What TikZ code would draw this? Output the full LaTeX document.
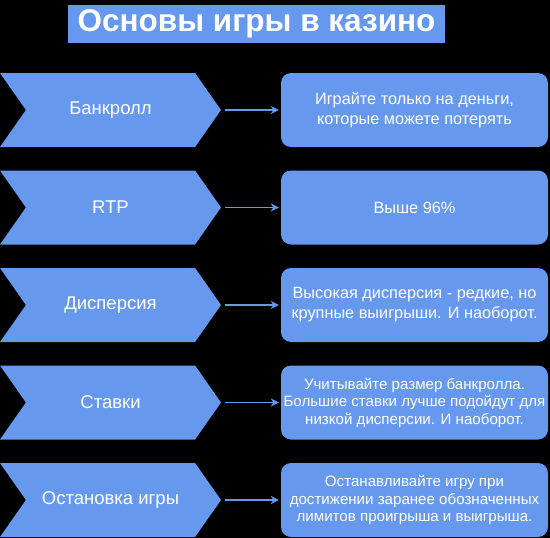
\documentclass[tikz,border=0pt]{standalone}
\usepackage{fontspec}
\setmainfont{Liberation Sans}
\usetikzlibrary{shapes.symbols,arrows.meta}
\definecolor{tileblue}{RGB}{102,153,238}
\begin{document}
\begin{tikzpicture}[x=1pt,y=-1pt,
    topic/.style={signal, signal from=west, signal to=east, signal pointer angle=110,
      fill=tileblue, text=white, minimum width=221pt, minimum height=74pt,
      inner sep=0pt, font=\fontsize{18.5}{22}\selectfont},
    note/.style={rectangle, rounded corners=10pt, fill=tileblue, text=white,
      minimum width=267pt, minimum height=74pt, inner sep=2pt, align=center,
      font=\fontsize{16.3}{20}\selectfont},
    small/.style={font=\fontsize{15.1}{17.5}\selectfont},
    link/.style={draw=tileblue, line width=1.4pt, -{Stealth[length=8pt,width=8pt]},
      shorten <=4pt, shorten >=2pt}]
  \fill[black] (0,0) rectangle (550,538);
  \useasboundingbox (0,0) rectangle (550,538);
  \node[fill=tileblue, text=white, minimum width=377pt, minimum height=38pt,
    inner sep=0pt, font=\fontsize{31.5}{36}\bfseries\selectfont] (title) at (256.5,24) {Основы игры в казино};
  \node[topic] (t1) at (110.5,110) {Банкролл};
  \node[topic] (t2) at (110.5,207.5) {RTP};
  \node[topic] (t3) at (110.5,305) {Дисперсия};
  \node[topic] (t4) at (110.5,402.5) {Ставки};
  \node[topic] (t5) at (110.5,500) {Остановка игры};
  \node[note] (n1) at (414.5,110) {Играйте только на деньги,\\которые можете потерять};
  \node[note] (n2) at (414.5,207.5) {Выше 96\%};
  \node[note] (n3) at (414.5,305) {Высокая дисперсия - редкие, но\\крупные выигрыши. И наоборот.};
  \node[note, small] (n4) at (414.5,402.5) {Учитывайте размер банкролла.\\Большие ставки лучше подойдут для\\низкой дисперсии. И наоборот.};
  \node[note, small] (n5) at (414.5,500) {Останавливайте игру при\\достижении заранее обозначенных\\лимитов проигрыша и выигрыша.};
  \begin{scope}[link]
    \draw (t1.east) to (n1.west);
    \draw (t2.east) to (n2.west);
    \draw (t3.east) to (n3.west);
    \draw (t4.east) to (n4.west);
    \draw (t5.east) to (n5.west);
  \end{scope}
\end{tikzpicture}
\end{document}
